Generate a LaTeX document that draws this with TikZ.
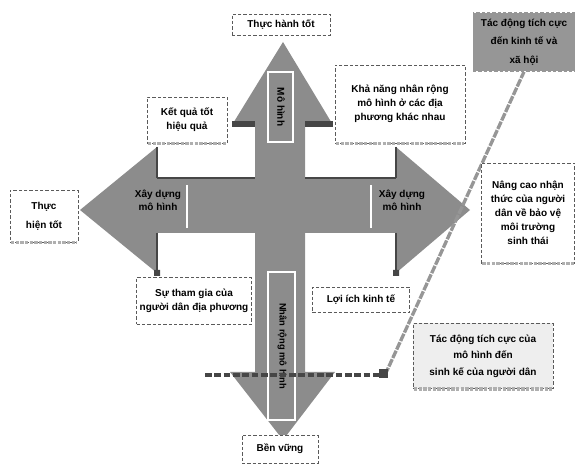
\documentclass[tikz,border=0pt]{standalone}
\usepackage{fontspec}
\setmainfont{Liberation Sans}
\definecolor{crossgray}{RGB}{140,140,140}
\definecolor{edgegray}{RGB}{90,90,90}
\definecolor{darkgray2}{RGB}{70,70,70}
\definecolor{boxgray}{RGB}{150,150,150}
\definecolor{stripegray}{RGB}{175,175,175}
\definecolor{lightbox}{RGB}{238,238,238}
\begin{document}
\begin{tikzpicture}[x=0.75pt,y=-0.75pt,
  crossfill/.style={fill=crossgray},
  callout/.style={draw=edgegray,line width=0.7pt,dash pattern=on 2.5pt off 1.5pt,fill=white,align=center,inner sep=1pt,font=\fontsize{7.5}{10.5}\selectfont\bfseries},
  stripe/.style={draw=stripegray,line width=2.5pt,dash pattern=on 2.5pt off 1pt},
  tick/.style={draw=darkgray2,line width=4pt},
  arrowlabel/.style={align=center,inner sep=0pt,font=\fontsize{7.5}{10}\selectfont\bfseries},
  whiteline/.style={draw=white,line width=1.2pt}]
\useasboundingbox (0,0) rectangle (575,466);
% cross arrow
\path[crossfill] (80,210) -- (157,147) -- (157,178) -- (255,178) -- (255,125) -- (232,125) -- (283,42) -- (333,125) -- (305,125) -- (305,178) -- (396,178) -- (396,147) -- (470,210) -- (396,273) -- (396,233) -- (305,233) -- (305,372) -- (335,372) -- (283,440) -- (230,372) -- (255,372) -- (255,233) -- (157,233) -- (157,273) -- cycle;
\draw[draw=darkgray2,line width=0.8pt] (157,178) -- (255,178) (305,178) -- (396,178);
% white separators and frames
\draw[whiteline] (187,185) -- (187,228) (371,185) -- (371,228);
\draw[whiteline] (268,72) rectangle (293,142);
\draw[whiteline] (268,272) rectangle (295,420);
% ticks
\draw[tick] (232,124) -- (255,124) (305,124) -- (333,124);
\draw[draw=darkgray2,line width=0.8pt] (157,147) -- (157,178) (157,233) -- (157,273) (396,147) -- (396,178) (396,233) -- (396,273);
\fill[darkgray2] (154,270) rectangle (160,276) (393,270) rectangle (399,276);
% arrow labels
\node[arrowlabel] (xl) at (158,200) {Xây dựng\\mô hình};
\node[arrowlabel] (xr) at (402,200) {Xây dựng\\mô hình};
\node[arrowlabel,rotate=-90] (vt) at (281,107) {Mô hình};
\node[arrowlabel,rotate=-90,font=\fontsize{7}{9}\selectfont\bfseries] (vb) at (282,346) {Nhân rộng mô hình};
% connectors
\coordinate (hs) at (205,375);
\coordinate (he) at (385,375);
\draw[draw=darkgray2,line width=3pt,dash pattern=on 5pt off 2pt] (hs) -- (he);
% callout boxes
\node[callout,minimum width=73.5pt,minimum height=16pt] (b1) at (281,25) {Thực hành tốt};
\node[callout,fill=boxgray,draw=boxgray,minimum width=76.5pt,minimum height=44pt,font=\fontsize{7.5}{14}\selectfont\bfseries] (b2) at (524,42) {Tác động tích cực\\đến kinh tế và\\xã hội};
\draw[draw=boxgray,line width=2.5pt,dash pattern=on 6pt off 1pt] (he) -- (b2.south);
\fill[darkgray2] (379,369) rectangle (388,378);
\node[callout,minimum width=97.5pt,minimum height=58.5pt] (b3) at (400,104) {Khả năng nhân rộng\\mô hình ở các địa\\phương khác nhau};
\node[callout,minimum width=60pt,minimum height=34.5pt] (b4) at (187,120) {Kết quả tốt\\hiệu quả};
\node[callout,minimum width=51pt,minimum height=39pt,font=\fontsize{7.5}{14}\selectfont\bfseries] (b5) at (44,216) {Thực\\hiện tốt};
\node[callout,minimum width=70pt,minimum height=75pt] (b6) at (528,213) {Nâng cao nhận\\thức của người\\dân về bảo vệ\\môi trường\\sinh thái};
\node[callout,minimum width=86pt,minimum height=35pt] (b7) at (194,301) {Sự tham gia của\\người dân địa phương};
\node[callout,minimum width=73pt,minimum height=19pt] (b8) at (361,300) {Lợi ích kinh tế};
\node[callout,fill=lightbox,minimum width=105pt,minimum height=49pt,font=\fontsize{7.5}{12.5}\selectfont\bfseries] (b9) at (483,356) {Tác động tích cực của\\mô hình đến\\sinh kế của người dân};
\node[callout,minimum width=57pt,minimum height=21pt] (b10) at (280,449) {Bền vững};
% bottom stripes of the boxes
\foreach \b in {b3,b4,b5,b6,b9}
  \draw[stripe] ([xshift=1pt]\b.south west) -- ([xshift=-1pt]\b.south east);
\end{tikzpicture}
\end{document}
